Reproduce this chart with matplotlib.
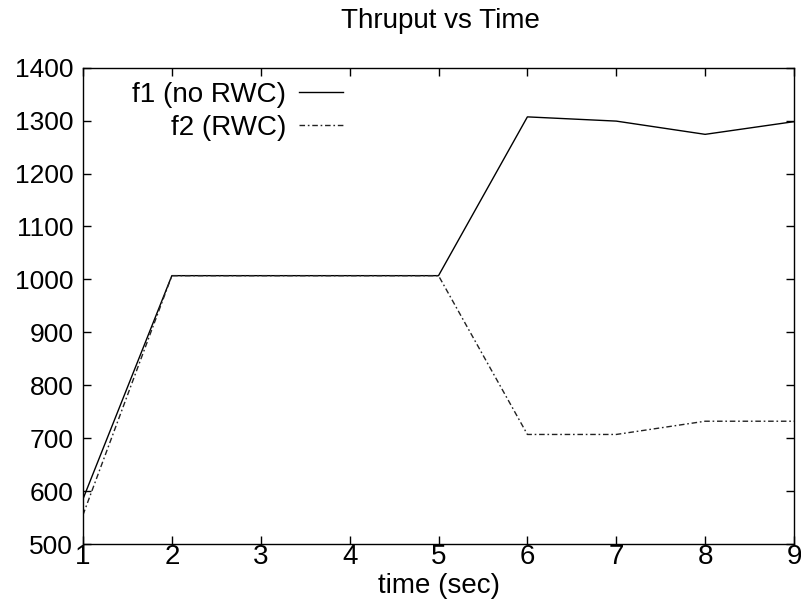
import matplotlib
matplotlib.use("Agg")
import matplotlib.pyplot as plt

plt.rcParams['font.family'] = ['Liberation Sans', 'DejaVu Sans']

# data
time_sec = [1, 2, 3, 4, 5, 6, 7, 8, 9]
f1_no_rwc = [585, 1007, 1007, 1007, 1007, 1307, 1299, 1274, 1298]
f2_rwc = [555, 1007, 1007, 1007, 1007, 707, 707, 732, 732]
x_ticks = [1, 2, 3, 4, 5, 6, 7, 8, 9]
y_ticks = [500, 600, 700, 800, 900, 1000, 1100, 1200, 1300, 1400]

fig = plt.figure(figsize=(8.01, 6.04), dpi=100)
ax = fig.add_axes([0.1036, 0.0993, 0.8877, 0.7887])

ax.plot(time_sec, f1_no_rwc, color='black', lw=1.0, label='f1 (no RWC)')
ax.plot(time_sec, f2_rwc, color='#222222', lw=1.0, dashes=(4, 2, 1.2, 2), label='f2 (RWC)')

ax.set_xlim(1, 9)
ax.set_ylim(500, 1400)
ax.set_xticks(x_ticks)
ax.set_yticks(y_ticks)
ax.tick_params(direction='in', top=True, right=True, length=6, width=1)
ax.tick_params(axis='x', labelsize=20, pad=0)
ax.tick_params(axis='y', labelsize=19, pad=7)
for s in ax.spines.values():
    s.set_linewidth(1.0)

ax.set_xlabel('time (sec)', fontsize=20, labelpad=2)
fig.text(0.55, 0.965, 'Thruput vs Time', ha='center', va='center', fontsize=20)

leg = ax.legend(loc='upper right', bbox_to_anchor=(0.366, 0.97), frameon=False,
                markerfirst=False, alignment='right', fontsize=20,
                handlelength=1.6, handletextpad=0.45, labelspacing=0.25,
                borderaxespad=0, borderpad=0)

fig.savefig('out.png', dpi=100)
